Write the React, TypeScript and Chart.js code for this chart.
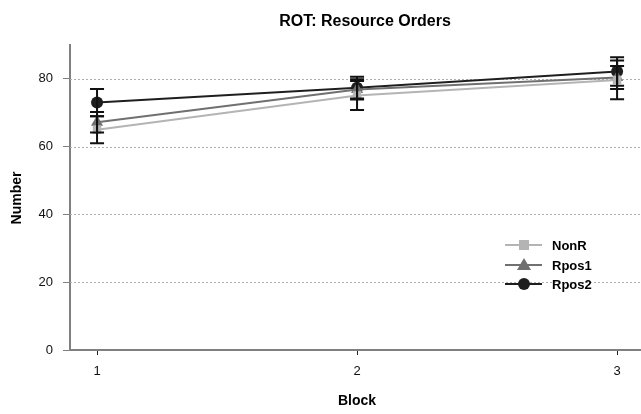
import React, { useEffect, useRef } from "react";
import { Chart, registerables } from "chart.js";

Chart.register(...registerables);

const blocks = [1, 2, 3];
const seriesNames = ["NonR", "Rpos1", "Rpos2"];
const nonR = [65.0, 75.1, 79.7];
const rpos1 = [67.2, 76.9, 80.4];
const rpos2 = [73.0, 77.4, 82.2];
const nonRErr = [4.0, 4.3, 5.7];
const rpos1Err = [3.0, 3.0, 3.4];
const rpos2Err = [4.0, 3.2, 4.2];
const yTicks = [0, 20, 40, 60, 80];

const colors = ["#b4b4b4", "#707070", "#1e1e1e"];
const markers = ["rect", "triangle", "circle"];
const values = [nonR, rpos1, rpos2];
const errors = [nonRErr, rpos1Err, rpos2Err];

const FONT = "Arial, 'Liberation Sans', sans-serif";

export default function App() {
  const ref = useRef<HTMLCanvasElement | null>(null);

  useEffect(() => {
    document.body.style.margin = "0";
    const canvas = ref.current;
    if (!canvas) return;

    const decor = {
      id: "decor",
      beforeDatasetsDraw(chart: any) {
        const { ctx, chartArea, scales } = chart;
        ctx.save();
        ctx.strokeStyle = "#b0b0b0";
        ctx.lineWidth = 1;
        ctx.setLineDash([2, 2]);
        yTicks.forEach((t) => {
          if (t === 0) return;
          const y = Math.round(scales.y.getPixelForValue(t)) + 0.5;
          ctx.beginPath();
          ctx.moveTo(chartArea.left, y);
          ctx.lineTo(chartArea.right, y);
          ctx.stroke();
        });
        ctx.restore();
      },
      afterDatasetsDraw(chart: any) {
        const { ctx, scales } = chart;
        ctx.save();
        ctx.strokeStyle = "#111";
        ctx.lineWidth = 2;
        values.forEach((vals, si) => {
          vals.forEach((v, i) => {
            const x = scales.x.getPixelForValue(blocks[i]);
            const yt = scales.y.getPixelForValue(v + errors[si][i]);
            const yb = scales.y.getPixelForValue(v - errors[si][i]);
            ctx.beginPath();
            ctx.moveTo(x, yt);
            ctx.lineTo(x, yb);
            ctx.moveTo(x - 7, yt);
            ctx.lineTo(x + 7, yt);
            ctx.moveTo(x - 7, yb);
            ctx.lineTo(x + 7, yb);
            ctx.stroke();
          });
        });
        ctx.restore();

        // title and axis titles
        ctx.save();
        ctx.fillStyle = "#000";
        ctx.textAlign = "center";
        ctx.textBaseline = "middle";
        ctx.font = "bold 16px " + FONT;
        ctx.fillText("ROT: Resource Orders", 365, 22);
        ctx.font = "bold 14px " + FONT;
        ctx.fillText("Block", 357, 401);
        ctx.translate(17, 198);
        ctx.rotate(-Math.PI / 2);
        ctx.fillText("Number", 0, 0);
        ctx.restore();

        // legend
        ctx.save();
        const rows = [245, 265, 284];
        seriesNames.forEach((name, i) => {
          const y = rows[i];
          ctx.strokeStyle = colors[i];
          ctx.lineWidth = 2;
          ctx.beginPath();
          ctx.moveTo(505, y);
          ctx.lineTo(542, y);
          ctx.stroke();
          ctx.fillStyle = colors[i];
          const cx = 524;
          ctx.beginPath();
          if (markers[i] === "rect") {
            ctx.rect(cx - 5, y - 5, 10, 10);
          } else if (markers[i] === "triangle") {
            ctx.moveTo(cx, y - 7);
            ctx.lineTo(cx + 7, y + 5);
            ctx.lineTo(cx - 7, y + 5);
            ctx.closePath();
          } else {
            ctx.arc(cx, y, 6, 0, Math.PI * 2);
          }
          ctx.fill();
          ctx.fillStyle = "#000";
          ctx.font = "bold 13px " + FONT;
          ctx.textAlign = "left";
          ctx.textBaseline = "middle";
          ctx.fillText(name, 552, y + 1);
        });
        ctx.restore();
      },
    };

    const chart = new Chart(canvas, {
      type: "line",
      data: {
        datasets: seriesNames.map((name, si) => ({
          label: name,
          data: values[si].map((v, i) => ({ x: blocks[i], y: v })),
          borderColor: colors[si],
          backgroundColor: colors[si],
          borderWidth: 2,
          pointStyle: markers[si] as any,
          pointRadius: si === 0 ? 6 : si === 1 ? 7 : 6,
          pointBorderWidth: 0,
          pointBackgroundColor: colors[si],
          pointBorderColor: colors[si],
          tension: 0,
        })),
      },
      options: {
        animation: false,
        responsive: false,
        maintainAspectRatio: false,
        layout: { autoPadding: false, padding: { top: 45, right: 0, left: 0, bottom: 0 } },
        plugins: {
          legend: { display: false },
          title: { display: false },
          tooltip: { enabled: false },
        },
        scales: {
          x: {
            type: "linear",
            min: 0.896,
            max: 3.092,
            afterBuildTicks: (s: any) => {
              s.ticks = blocks.map((b) => ({ value: b }));
            },
            afterFit: (s: any) => {
              s.height = 64;
              s.paddingLeft = 0;
              s.paddingRight = 0;
            },
            ticks: {
              color: "#111",
              font: { family: FONT, size: 13 },
              padding: 9,
              callback: (v: any) => String(v),
            },
            grid: {
              drawOnChartArea: false,
              tickLength: 5,
              tickColor: "#222",
              tickWidth: 1,
            },
            border: { color: "#808080", width: 2 },
          },
          y: {
            min: 0,
            max: 90,
            afterBuildTicks: (s: any) => {
              s.ticks = yTicks.map((t) => ({ value: t }));
            },
            afterFit: (s: any) => {
              s.width = 70;
              s.paddingTop = 0;
              s.paddingBottom = 0;
            },
            ticks: {
              color: "#111",
              font: { family: FONT, size: 13 },
              padding: 10,
            },
            grid: {
              drawOnChartArea: false,
              tickLength: 7,
              tickColor: "#808080",
              tickWidth: 1,
            },
            border: { color: "#808080", width: 2 },
          },
        },
      },
      plugins: [decor],
    } as any);

    return () => chart.destroy();
  }, []);

  return (
    <div style={{ width: 641, height: 414 }}>
      <canvas ref={ref} width={641} height={414} style={{ display: "block" }} />
    </div>
  );
}
